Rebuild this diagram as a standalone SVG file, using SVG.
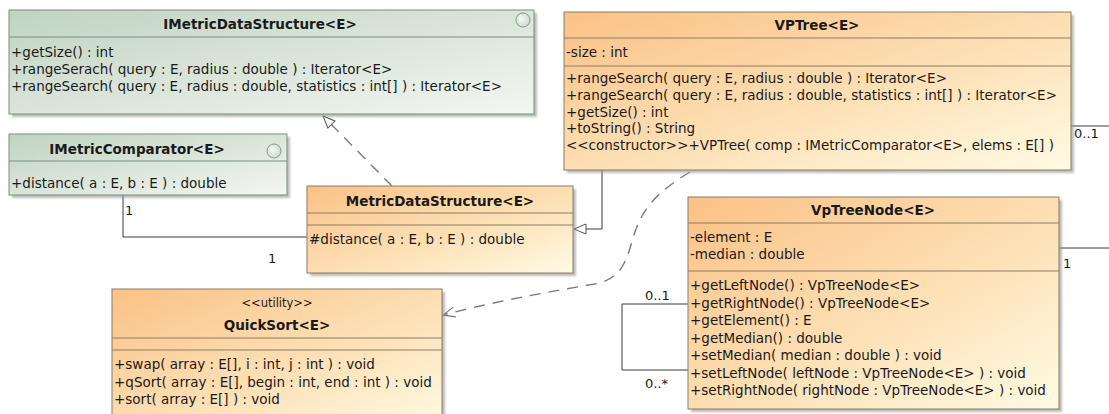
<svg xmlns="http://www.w3.org/2000/svg" width="1109" height="414" viewBox="0 0 1109 414">
  <defs>
    <linearGradient id="gOrange" x1="0" y1="0" x2="1" y2="1">
      <stop offset="0" stop-color="#fbc186"/>
      <stop offset="0.55" stop-color="#fde0b5"/>
      <stop offset="1" stop-color="#fffbe4"/>
    </linearGradient>
    <linearGradient id="gGreen" x1="0" y1="0" x2="1" y2="1">
      <stop offset="0" stop-color="#c0d3c0"/>
      <stop offset="1" stop-color="#f3f7f2"/>
    </linearGradient>
    <radialGradient id="gBall" cx="0.4" cy="0.4" r="0.7">
      <stop offset="0" stop-color="#f4f8f4"/>
      <stop offset="1" stop-color="#c9d6c9"/>
    </radialGradient>
    <filter id="soft" x="-5%" y="-5%" width="110%" height="110%">
      <feGaussianBlur stdDeviation="1"/>
    </filter>
    <marker id="hollowTri" viewBox="-1 -1 14 12" refX="12" refY="5" markerWidth="14" markerHeight="12" markerUnits="userSpaceOnUse" orient="auto">
      <path d="M0 0 L12 5 L0 10 Z" fill="#fff" stroke="#555" stroke-width="1" stroke-dasharray="none"/>
    </marker>
    <marker id="openArrow" viewBox="-1 -1 14 12" refX="12" refY="5" markerWidth="14" markerHeight="12" markerUnits="userSpaceOnUse" orient="auto">
      <path d="M0 0 L12 5 L0 10" fill="none" stroke="#777" stroke-width="1.2" stroke-dasharray="none"/>
    </marker>
  </defs>
  <style>
    .t{font-family:"DejaVu Sans",Verdana,sans-serif;font-size:13.5px;fill:#1a1a1a}
    .b{font-weight:bold}
    .m{text-anchor:middle}
    .st{font-size:11.5px}
    .lbl{font-family:"DejaVu Sans",Verdana,sans-serif;font-size:13px;fill:#1a1a1a}
    .shadow{fill:#9a9a9a;opacity:.65;filter:url(#soft)}
    .cls{fill:url(#gOrange);stroke:#8a7c63;stroke-width:1}
    .itf{fill:url(#gGreen);stroke:#7a8e7c;stroke-width:1}
    .sepO{stroke:#8a7c63;stroke-width:1}
    .sepG{stroke:#7a8e7c;stroke-width:1}
    .ball{fill:url(#gBall);stroke:#8a978a;stroke-width:1}
    .solid{fill:none;stroke:#3a3a3a;stroke-width:1}
    .dash{fill:none;stroke:#7a7a7a;stroke-width:1.4;stroke-dasharray:11 8}
  </style>

  <!-- connectors -->
  <g id="connectors">
    <!-- realization MetricDataStructure -> IMetricDataStructure -->
    <path class="dash" d="M392 186 L323 116" marker-end="url(#hollowTri)"/>
    <!-- generalization VPTree -> MetricDataStructure -->
    <path class="solid" d="M602 170 V229 H574" marker-end="url(#hollowTri)"/>
    <!-- dependency VPTree -> QuickSort -->
    <path class="dash" d="M690 172 C652 195 641 212 633 238 C626 262 622 276 600 283 C560 290 500 300 443 315" marker-end="url(#openArrow)"/>
    <!-- association IMetricComparator - MetricDataStructure -->
    <path class="solid" d="M123 195 V237 H307"/>
    <!-- self association on VpTreeNode -->
    <path class="solid" d="M688 304 H622 V370 H688"/>
    <!-- associations leaving to the right -->
    <path class="solid" d="M1071 126 H1109"/>
    <path class="solid" d="M1059 248 H1109"/>
    <text class="lbl" x="125" y="215">1</text>
    <text class="lbl" x="268" y="263">1</text>
    <text class="lbl" x="1074" y="138">0..1</text>
    <text class="lbl" x="1063" y="268">1</text>
    <text class="lbl" x="645" y="300">0..1</text>
    <text class="lbl" x="645" y="388">0..*</text>
  </g>

  <!-- interface IMetricDataStructure -->
  <g id="IMetricDataStructure">
    <rect class="shadow" x="12" y="13" width="525" height="104"/>
    <rect class="itf" x="9" y="10" width="525" height="104"/>
    <line class="sepG" x1="9" y1="37" x2="534" y2="37"/>
    <circle class="ball" cx="523" cy="20" r="7"/>
    <text class="t b m" x="260" y="29">IMetricDataStructure&lt;E&gt;</text>
    <text class="t" x="11" y="57">+getSize() : int</text>
    <text class="t" x="11" y="74">+rangeSerach( query : E, radius : double ) : Iterator&lt;E&gt;</text>
    <text class="t" x="11" y="91">+rangeSearch( query : E, radius : double, statistics : int[] ) : Iterator&lt;E&gt;</text>
  </g>

  <!-- interface IMetricComparator -->
  <g id="IMetricComparator">
    <rect class="shadow" x="12" y="137" width="278" height="61"/>
    <rect class="itf" x="9" y="134" width="278" height="61"/>
    <line class="sepG" x1="9" y1="161" x2="287" y2="161"/>
    <circle class="ball" cx="274" cy="151" r="7"/>
    <text class="t b m" x="137" y="154">IMetricComparator&lt;E&gt;</text>
    <text class="t" x="11" y="188">+distance( a : E, b : E ) : double</text>
  </g>

  <!-- class VPTree -->
  <g id="VPTree">
    <rect class="shadow" x="567" y="15" width="507" height="158"/>
    <rect class="cls" x="564" y="12" width="507" height="158"/>
    <line class="sepO" x1="564" y1="38" x2="1071" y2="38"/>
    <line class="sepO" x1="564" y1="66" x2="1071" y2="66"/>
    <text class="t b m" x="817" y="30">VPTree&lt;E&gt;</text>
    <text class="t" x="566" y="57">-size : int</text>
    <text class="t" x="566" y="83">+rangeSearch( query : E, radius : double ) : Iterator&lt;E&gt;</text>
    <text class="t" x="566" y="100">+rangeSearch( query : E, radius : double, statistics : int[] ) : Iterator&lt;E&gt;</text>
    <text class="t" x="566" y="117">+getSize() : int</text>
    <text class="t" x="566" y="133">+toString() : String</text>
    <text class="t" x="566" y="150">&lt;&lt;constructor&gt;&gt;+VPTree( comp : IMetricComparator&lt;E&gt;, elems : E[] )</text>
  </g>

  <!-- abstract base MetricDataStructure -->
  <g id="MetricDataStructure">
    <rect class="shadow" x="310" y="189" width="266" height="87"/>
    <rect class="cls" x="307" y="186" width="266" height="87"/>
    <line class="sepO" x1="307" y1="213" x2="573" y2="213"/>
    <line class="sepO" x1="307" y1="225" x2="573" y2="225"/>
    <text class="t b m" x="440" y="206">MetricDataStructure&lt;E&gt;</text>
    <text class="t" x="309" y="244">#distance( a : E, b : E ) : double</text>
  </g>

  <!-- class VpTreeNode -->
  <g id="VpTreeNode">
    <rect class="shadow" x="691" y="200" width="371" height="212"/>
    <rect class="cls" x="688" y="197" width="371" height="212"/>
    <line class="sepO" x1="688" y1="223" x2="1059" y2="223"/>
    <line class="sepO" x1="688" y1="271" x2="1059" y2="271"/>
    <text class="t b m" x="873" y="215">VpTreeNode&lt;E&gt;</text>
    <text class="t" x="690" y="242">-element : E</text>
    <text class="t" x="690" y="259">-median : double</text>
    <text class="t" x="690" y="290">+getLeftNode() : VpTreeNode&lt;E&gt;</text>
    <text class="t" x="690" y="307.5">+getRightNode() : VpTreeNode&lt;E&gt;</text>
    <text class="t" x="690" y="325">+getElement() : E</text>
    <text class="t" x="690" y="342.5">+getMedian() : double</text>
    <text class="t" x="690" y="360">+setMedian( median : double ) : void</text>
    <text class="t" x="690" y="377.5">+setLeftNode( leftNode : VpTreeNode&lt;E&gt; ) : void</text>
    <text class="t" x="690" y="395">+setRightNode( rightNode : VpTreeNode&lt;E&gt; ) : void</text>
  </g>

  <!-- utility class QuickSort -->
  <g id="QuickSort">
    <rect class="shadow" x="115" y="292" width="330" height="140"/>
    <rect class="cls" x="112" y="289" width="330" height="140"/>
    <line class="sepO" x1="112" y1="338" x2="442" y2="338"/>
    <line class="sepO" x1="112" y1="350" x2="442" y2="350"/>
    <text class="t st m" x="277" y="307">&lt;&lt;utility&gt;&gt;</text>
    <text class="t b m" x="277" y="330">QuickSort&lt;E&gt;</text>
    <text class="t" x="114" y="369">+swap( array : E[], i : int, j : int ) : void</text>
    <text class="t" x="114" y="387">+qSort( array : E[], begin : int, end : int ) : void</text>
    <text class="t" x="114" y="404">+sort( array : E[] ) : void</text>
  </g>
</svg>
